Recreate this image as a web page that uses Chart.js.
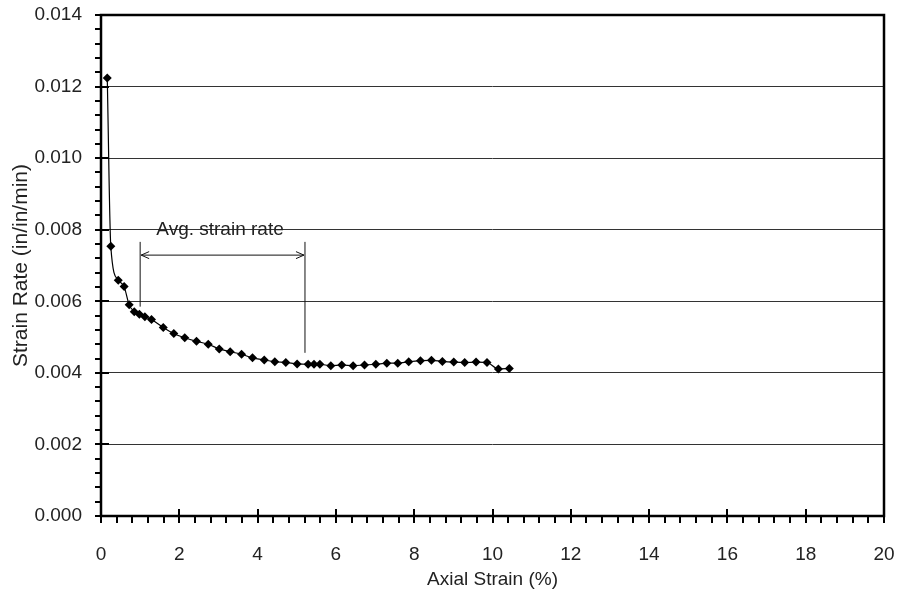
<!DOCTYPE html>
<html>
<head>
<meta charset="utf-8">
<script src="https://cdn.jsdelivr.net/npm/chart.js@4.4.0/dist/chart.umd.min.js"></script>
<style>
  html, body { margin: 0; padding: 0; background: #fff; }
  #wrap { width: 898px; height: 596px; }
</style>
</head>
<body>
<div id="wrap"><canvas id="c" width="898" height="596"></canvas></div>
<script>
// ---- data ----
const axialStrain = [0.16, 0.25, 0.44, 0.59, 0.72, 0.85, 0.98, 1.12, 1.29, 1.59, 1.86, 2.14, 2.44, 2.74, 3.02, 3.30, 3.59, 3.87, 4.17, 4.44, 4.72, 5.01, 5.29, 5.44, 5.59, 5.87, 6.15, 6.44, 6.73, 7.02, 7.30, 7.58, 7.86, 8.16, 8.44, 8.72, 9.01, 9.29, 9.58, 9.86, 10.15, 10.43];
const strainRate = [0.01224, 0.00754, 0.00659, 0.00641, 0.00590, 0.00571, 0.00564, 0.00557, 0.00549, 0.00527, 0.00510, 0.00498, 0.00488, 0.00480, 0.00467, 0.00459, 0.00452, 0.00442, 0.00436, 0.00431, 0.00429, 0.00425, 0.00424, 0.00424, 0.00424, 0.00420, 0.00422, 0.00420, 0.00422, 0.00424, 0.00427, 0.00427, 0.00431, 0.00434, 0.00435, 0.00432, 0.00430, 0.00429, 0.00430, 0.00429, 0.00411, 0.00412];
const xTickLabels = ['0', '2', '4', '6', '8', '10', '12', '14', '16', '18', '20'];
const yTickLabels = ['0.000', '0.002', '0.004', '0.006', '0.008', '0.010', '0.012', '0.014'];
const xTitle = 'Axial Strain (%)';
const yTitle = 'Strain Rate (in/in/min)';
const annotationText = 'Avg. strain rate';
const avgRange = [1.0, 5.21];

const FONT = "'Liberation Sans', Arial, sans-serif";
const points = axialStrain.map((x, i) => ({ x: x, y: strainRate[i] }));

function noPad(s) { s.paddingTop = 0; s.paddingBottom = 0; s.paddingLeft = 0; s.paddingRight = 0; }

// frame, minor ticks and annotation drawn via the chart's own scales
const framePlugin = {
  id: 'frame',
  afterDraw(chart) {
    const { ctx, chartArea: a, scales: { x, y } } = chart;
    ctx.save();
    ctx.strokeStyle = '#000';
    ctx.lineWidth = 2;
    ctx.beginPath();
    for (let i = 0; i <= 50; i++) {
      const px = Math.round(x.getPixelForValue(i * 0.4));
      const major = i % 5 === 0;
      ctx.moveTo(px, a.bottom + 7);
      ctx.lineTo(px, major ? a.bottom - 7 : a.bottom);
    }
    for (let i = 0; i <= 35; i++) {
      const py = Math.round(y.getPixelForValue(i * 0.0004));
      const major = i % 5 === 0;
      ctx.moveTo(a.left - 6, py);
      ctx.lineTo(major ? a.left + 8 : a.left, py);
    }
    ctx.stroke();
    ctx.lineWidth = 2.5;
    ctx.strokeRect(a.left, a.top, a.right - a.left, a.bottom - a.top);

    // annotation
    const x1 = x.getPixelForValue(avgRange[0]);
    const x2 = x.getPixelForValue(avgRange[1]);
    const yTop = y.getPixelForValue(0.00766);
    const yArrow = y.getPixelForValue(0.00729);
    ctx.lineWidth = 1;
    ctx.strokeStyle = '#111';
    ctx.beginPath();
    ctx.moveTo(x1, yTop); ctx.lineTo(x1, y.getPixelForValue(0.00585));
    ctx.moveTo(x2, yTop); ctx.lineTo(x2, y.getPixelForValue(0.00456));
    ctx.moveTo(x1 + 1, yArrow); ctx.lineTo(x2 - 1, yArrow);
    ctx.moveTo(x1 + 9, yArrow - 3.5); ctx.lineTo(x1 + 1, yArrow); ctx.lineTo(x1 + 9, yArrow + 3.5);
    ctx.moveTo(x2 - 9, yArrow - 3.5); ctx.lineTo(x2 - 1, yArrow); ctx.lineTo(x2 - 9, yArrow + 3.5);
    ctx.stroke();
    ctx.fillStyle = '#222';
    ctx.font = "19px " + FONT;
    ctx.textAlign = 'center';
    ctx.textBaseline = 'alphabetic';
    ctx.fillText(annotationText, x.getPixelForValue(3.04), y.getPixelForValue(0.00785));
    ctx.restore();
  }
};

new Chart(document.getElementById('c'), {
  type: 'scatter',
  data: {
    datasets: [{
      data: points,
      showLine: true,
      borderColor: '#000',
      borderWidth: 1.2,
      cubicInterpolationMode: 'monotone',
      pointStyle: 'rectRot',
      pointRadius: 4.5,
      pointBackgroundColor: '#000',
      pointBorderColor: '#000',
      pointBorderWidth: 0
    }]
  },
  options: {
    responsive: false,
    animation: false,
    layout: { autoPadding: false, padding: { top: 15, right: 14, left: 0, bottom: 0 } },
    plugins: { legend: { display: false }, tooltip: { enabled: false } },
    scales: {
      x: {
        type: 'linear', min: 0, max: 20,
        afterFit(s) { s.height = 80; noPad(s); },
        afterBuildTicks(s) { s.ticks = xTickLabels.map(t => ({ value: Number(t) })); },
        ticks: {
          callback: (v) => xTickLabels[Math.round(v / 2)],
          font: { family: FONT, size: 19 }, color: '#222', padding: 27, maxRotation: 0
        },
        grid: { drawOnChartArea: false, drawTicks: false },
        border: { display: false },
        title: { display: true, text: xTitle, font: { family: FONT, size: 19 }, color: '#222', padding: { top: 0, bottom: 5 } }
      },
      y: {
        type: 'linear', min: 0, max: 0.014,
        afterFit(s) { s.width = 101; noPad(s); },
        afterBuildTicks(s) { s.ticks = yTickLabels.map(t => ({ value: Number(t) })); },
        ticks: {
          callback: (v) => yTickLabels[Math.round(v / 0.002)],
          font: { family: FONT, size: 19 }, color: '#222', padding: 19
        },
        grid: { color: '#333', lineWidth: 1, drawTicks: false },
        border: { display: false },
        title: { display: true, text: yTitle, font: { family: FONT, size: 21 }, color: '#222', padding: { top: 9, bottom: 0 } }
      }
    }
  },
  plugins: [framePlugin]
});
</script>
</body>
</html>
